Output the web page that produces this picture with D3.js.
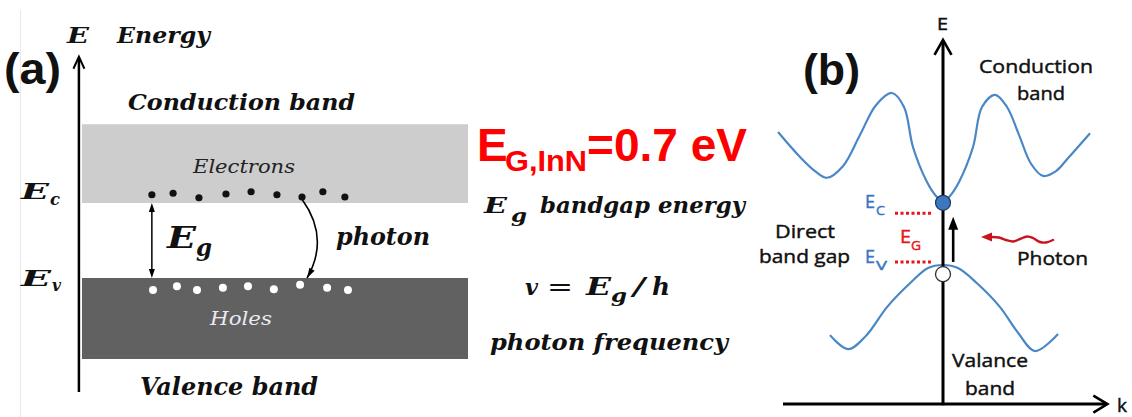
<!DOCTYPE html>
<html>
<head>
<meta charset="utf-8">
<script src="https://cdn.jsdelivr.net/npm/d3@7"></script>
<style>
  body { margin: 0; background: #fff; }
  svg { display: block; }
  .ser { font-family: "DejaVu Serif", serif; font-style: italic; font-weight: bold; fill: #111; }
  .sans { font-family: "Open Sans", "Noto Sans", sans-serif; fill: #111; stroke: #111; stroke-width: 0.45px; }
  .lab { font-family: "Liberation Sans", Arial, sans-serif; font-weight: bold; fill: #111; }
</style>
</head>
<body>
<div id="chart"></div>
<script>
// ---- panel (a): flat band picture, x = % along band, E in units of the gap (Ev=0, Ec=1)
var bandEdges = [2.05, 1, 0, -1.08];            // conduction top, Ec, Ev, valence bottom
var electronX = [18.1, 23.6, 30.3, 37.3, 43.8, 50.5, 57.0, 62.4, 68.1];
var electronE = [1.11, 1.13, 1.07, 1.12, 1.15, 1.11, 1.08, 1.15, 1.08];
var holeX = [18.4, 24.6, 29.8, 36.5, 43.0, 49.7, 56.5, 63.5, 68.9];
var holeE = [-0.16, -0.11, -0.16, -0.13, -0.11, -0.15, -0.09, -0.13, -0.16];

// ---- panel (b): E(k) curves, k in units, E in units (Ev=0, Ec=1)
var condK = [-1.134, -0.983, -0.880, -0.798, -0.688, -0.571, -0.461, -0.351, -0.268, -0.206, -0.110, -0.048, 0,
             0.048, 0.110, 0.206, 0.268, 0.358, 0.440, 0.523, 0.605, 0.688, 0.777, 0.859, 1.011];
var condE = [2.18, 1.77, 1.54, 1.43, 1.62, 2.13, 2.62, 2.82, 2.59, 1.93, 1.36, 1.13, 1.03,
             1.13, 1.36, 1.93, 2.59, 2.79, 2.59, 2.13, 1.66, 1.46, 1.54, 1.75, 2.16];
var valK = [-0.777, -0.653, -0.529, -0.385, -0.227, -0.103, 0, 0.103, 0.234, 0.392, 0.516, 0.633, 0.791];
var valE = [-1.15, -1.38, -1.16, -0.69, -0.30, -0.05, 0, -0.05, -0.30, -0.69, -1.11, -1.41, -1.13];

function head(g, x, y, ang, len, wid, col) {
  // filled triangle, tip at x,y pointing along ang
  var bx = x - Math.cos(ang) * len, by = y - Math.sin(ang) * len;
  var px = -Math.sin(ang) * wid / 2, py = Math.cos(ang) * wid / 2;
  g.append("path")
    .attr("d", "M" + x + "," + y + "L" + (bx + px) + "," + (by + py) + "L" + (bx - px) + "," + (by - py) + "Z")
    .attr("fill", col);
}

function chevron(g, x, y, ang, len, wid, sw) {
  var bx = x - Math.cos(ang) * len, by = y - Math.sin(ang) * len;
  var px = -Math.sin(ang) * wid / 2, py = Math.cos(ang) * wid / 2;
  g.append("path")
    .attr("d", "M" + (bx + px) + "," + (by + py) + "L" + x + "," + y + "L" + (bx - px) + "," + (by - py))
    .attr("fill", "none").attr("stroke", "#000").attr("stroke-width", sw);
}

function txt(g, cls, s, x, y, size, len) {
  var t = g.append("text").attr("class", cls).attr("x", x).attr("y", y)
    .style("font-size", size + "px").text(s);
  if (len) t.attr("textLength", len).attr("lengthAdjust", "spacingAndGlyphs");
  return t;
}

function drawChart() {
  var W = 1132, H = 417;
  var svg = d3.select("#chart").append("svg").attr("width", W).attr("height", H);

  // faint edge of the pasted image
  svg.append("line").attr("x1", 20.5).attr("x2", 20.5).attr("y1", 10).attr("y2", H)
    .attr("stroke", "#e8e8e8").attr("stroke-width", 1);

  // ================= (a)
  var xA = d3.scaleLinear().domain([0, 100]).range([82, 468]);
  var yA = d3.scaleLinear().domain([0, 1]).range([278, 203]);
  var a = svg.append("g");

  a.append("rect")
    .attr("x", xA(0)).attr("width", xA(100) - xA(0))
    .attr("y", yA(bandEdges[0])).attr("height", yA(bandEdges[1]) - yA(bandEdges[0]))
    .attr("fill", "#cdcdcd");
  a.append("rect")
    .attr("x", xA(0)).attr("width", xA(100) - xA(0))
    .attr("y", yA(bandEdges[2])).attr("height", yA(bandEdges[3]) - yA(bandEdges[2]))
    .attr("fill", "#616161");

  // energy axis
  var ax = xA(-0.8);
  a.append("line").attr("x1", ax).attr("x2", ax).attr("y1", yA(-1.52)).attr("y2", yA(2.93))
    .attr("stroke", "#000").attr("stroke-width", 2.5);
  chevron(a, ax, yA(2.95), -Math.PI / 2, 12, 11, 2);

  // Eg double arrow
  var gx = xA(electronX[0]);
  a.append("line").attr("x1", gx).attr("x2", gx).attr("y1", yA(1) + 6).attr("y2", yA(0) - 6)
    .attr("stroke", "#000").attr("stroke-width", 1.5);
  head(a, gx, yA(1), -Math.PI / 2, 9, 6, "#000");
  head(a, gx, yA(0), Math.PI / 2, 9, 6, "#000");

  // recombination arrow
  var x0 = xA(57.0), y0 = yA(1.05), x1 = xA(58.3), y1 = yA(0);
  var cx = 330, cy = 238;
  var p = d3.path();
  p.moveTo(x0, y0); p.quadraticCurveTo(cx, cy, x1, y1);
  a.append("path").attr("d", p.toString()).attr("fill", "none")
    .attr("stroke", "#000").attr("stroke-width", 1.6);
  head(a, x1, y1, Math.atan2(y1 - cy, x1 - cx), 10, 6, "#000");

  a.selectAll(".el").data(electronX).enter().append("circle")
    .attr("class", "el")
    .attr("cx", function(d) { return xA(d); })
    .attr("cy", function(d, i) { return yA(electronE[i]); })
    .attr("r", 3.6).attr("fill", "#111");
  a.selectAll(".ho").data(holeX).enter().append("circle")
    .attr("class", "ho")
    .attr("cx", function(d) { return xA(d); })
    .attr("cy", function(d, i) { return yA(holeE[i]); })
    .attr("r", 4).attr("fill", "#fff");

  txt(a, "lab", "(a)", 4, 84, 44, 57);
  txt(a, "ser", "E", 67, 43, 22, 22);
  txt(a, "ser", "Energy", 117, 43, 22, 93);
  txt(a, "ser", "Conduction band", 128, 110, 23, 227);
  txt(a, "ser", "Electrons", 193, 173, 18, 102).style("font-weight", "normal").style("fill", "#222");
  txt(a, "ser", "E", 21, 199, 22, 28);
  txt(a, "ser", "c", 50, 205, 16, 10);
  txt(a, "ser", "E", 21, 286, 22, 30);
  txt(a, "ser", "v", 52, 291, 16, 9);
  txt(a, "ser", "E", 167, 248, 29, 29);
  txt(a, "ser", "g", 196, 256, 24, 16);
  txt(a, "ser", "photon", 336, 245, 24, 94);
  txt(a, "ser", "Holes", 210, 325, 19, 62).style("font-weight", "normal").style("fill", "#ece8f4");
  txt(a, "ser", "Valence band", 140, 395, 24, 178);

  // ================= middle text
  var m = svg.append("g");
  txt(m, "lab", "E", 477, 161, 46).style("fill", "#f00");
  txt(m, "lab", "G,InN", 505, 171, 30, 82).style("fill", "#f00");
  txt(m, "lab", "=0.7 eV", 587, 161, 46, 160).style("fill", "#f00");

  txt(m, "ser", "E", 484, 213, 22, 23);
  txt(m, "ser", "g", 511, 222, 18, 16);
  txt(m, "ser", "bandgap energy", 540, 213, 22, 205);

  txt(m, "ser", "v", 525, 295, 23, 13);
  txt(m, "ser", "=", 547, 295, 24, 26).style("font-style", "normal").style("font-weight", "normal");
  txt(m, "ser", "E", 586, 295, 24, 25);
  txt(m, "ser", "g", 611, 302, 19, 16);
  txt(m, "ser", "/", 633, 295, 24, 12);
  txt(m, "ser", "h", 652, 295, 24, 18);

  txt(m, "ser", "photon  frequency", 490, 350, 23, 238);

  // ================= (b)
  var kB = d3.scaleLinear().domain([-1, 1]).range([943 - 145.45, 943 + 145.45]);
  var eB = d3.scaleLinear().domain([0, 1]).range([265, 204]);
  var b = svg.append("g");

  var line = d3.line()
    .x(function(d) { return kB(d[0]); })
    .y(function(d) { return eB(d[1]); })
    .curve(d3.curveCatmullRom.alpha(0.5));
  var blue = "#4a87c6";
  b.append("path").attr("d", line(d3.zip(condK, condE))).attr("fill", "none")
    .attr("stroke", blue).attr("stroke-width", 2.2);
  b.append("path").attr("d", line(d3.zip(valK, valE))).attr("fill", "none")
    .attr("stroke", blue).attr("stroke-width", 2.2);

  // axes
  b.append("line").attr("x1", kB(0)).attr("x2", kB(0)).attr("y1", eB(-2.3)).attr("y2", eB(3.67))
    .attr("stroke", "#000").attr("stroke-width", 3);
  chevron(b, kB(0), eB(3.69), -Math.PI / 2, 15, 17, 2.6);
  b.append("line").attr("x1", kB(-1.1)).attr("x2", kB(1.125)).attr("y1", eB(-2.28)).attr("y2", eB(-2.28))
    .attr("stroke", "#000").attr("stroke-width", 3);
  chevron(b, kB(1.13), eB(-2.28), 0, 14, 17, 2.6);

  // Ec / Ev dotted levels
  [1 - 0.15, 0.05].forEach(function(v) {
    b.append("line").attr("x1", kB(-0.33)).attr("x2", kB(-0.07)).attr("y1", eB(v)).attr("y2", eB(v))
      .attr("stroke", "#e8151b").attr("stroke-width", 3).attr("stroke-dasharray", "3,2.5");
  });

  // excitation arrow
  var kx = kB(0.07);
  b.append("line").attr("x1", kx).attr("x2", kx).attr("y1", eB(0.05)).attr("y2", eB(0.65))
    .attr("stroke", "#000").attr("stroke-width", 2.6);
  head(b, kx, eB(0.79), -Math.PI / 2, 13, 10, "#000");

  // electron and hole
  b.append("circle").attr("cx", kB(0)).attr("cy", eB(1.02)).attr("r", 7.5)
    .attr("fill", "#3c77bf").attr("stroke", "#1d3a5c").attr("stroke-width", 1.2);
  b.append("circle").attr("cx", kB(0)).attr("cy", eB(-0.15)).attr("r", 7.5)
    .attr("fill", "#fff").attr("stroke", "#333").attr("stroke-width", 1.3);

  // photon wave
  var wave = [[1053, 240], [1046, 242.5], [1040, 242], [1033, 238], [1027, 236.5], [1020, 239],
              [1013, 241.5], [1006, 240], [999, 237.5], [992, 237]];
  b.append("path").attr("d", d3.line().curve(d3.curveCatmullRom)(wave)).attr("fill", "none")
    .attr("stroke", "#c8141c").attr("stroke-width", 2.4).attr("stroke-linecap", "round");
  head(b, 981, 237, Math.PI, 11, 9, "#c8141c");

  txt(b, "lab", "(b)", 803, 85, 44, 57);
  txt(b, "sans", "E", 937, 30, 17, 11);
  txt(b, "sans", "Conduction", 979, 73, 19, 114);
  txt(b, "sans", "band", 1017, 100, 19, 48);
  txt(b, "sans", "E", 865, 208, 18, 10).style("fill", "#3a75c4").style("stroke", "#3a75c4");
  txt(b, "sans", "C", 876, 215, 13, 9).style("fill", "#3a75c4").style("stroke", "#3a75c4");
  txt(b, "sans", "E", 900, 243, 18, 11).style("fill", "#e8151b").style("stroke", "#e8151b");
  txt(b, "sans", "G", 911, 250, 13, 10).style("fill", "#e8151b").style("stroke", "#e8151b");
  txt(b, "sans", "E", 865, 263, 18, 10).style("fill", "#3a75c4").style("stroke", "#3a75c4");
  txt(b, "sans", "V", 876, 270, 13, 11).style("fill", "#3a75c4").style("stroke", "#3a75c4");
  txt(b, "sans", "Direct", 775, 238, 19, 60);
  txt(b, "sans", "band gap", 759, 263, 19, 91);
  txt(b, "sans", "Photon", 1017, 265, 19, 71);
  txt(b, "sans", "Valance", 952, 367, 19, 76);
  txt(b, "sans", "band", 965, 395, 19, 50);
  txt(b, "sans", "k", 1117, 412, 19, 10);
}

drawChart();
</script>
</body>
</html>
